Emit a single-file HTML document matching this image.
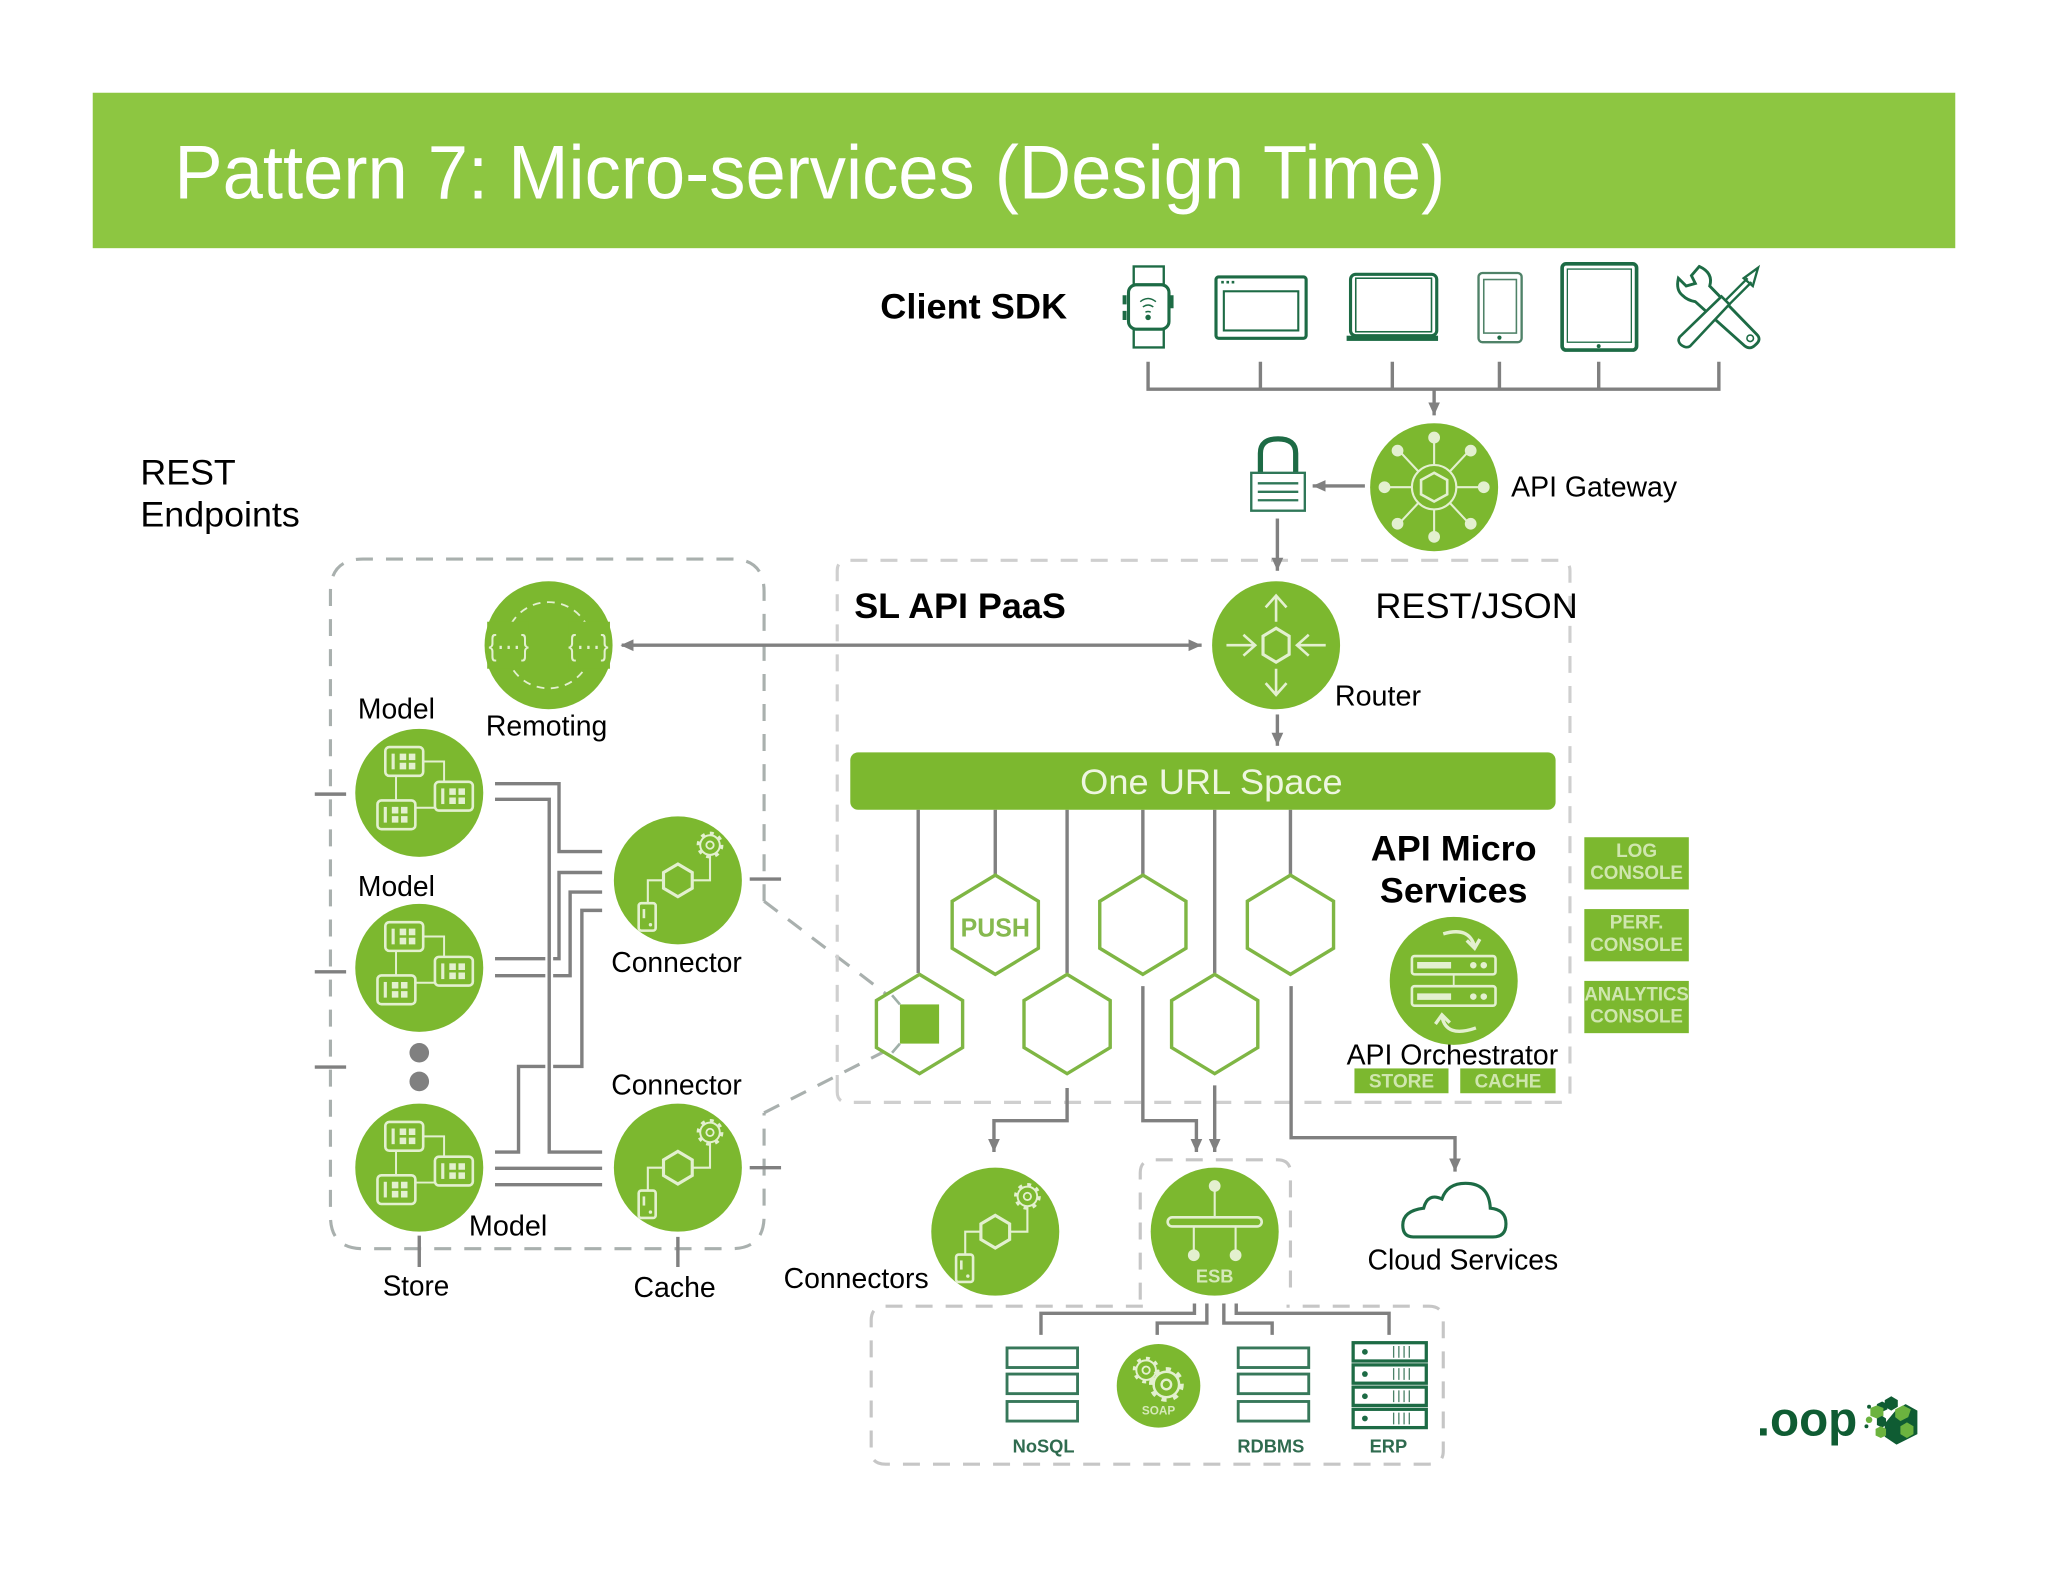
<!DOCTYPE html>
<html><head><meta charset="utf-8"><style>
html,body{margin:0;padding:0;background:#fff}
svg{display:block}
text{font-family:"Liberation Sans",sans-serif}
</style></head><body>
<svg xmlns="http://www.w3.org/2000/svg" width="2048" height="1582" viewBox="0 0 1568 1211.2">
<defs>
<marker id="a" markerUnits="userSpaceOnUse" markerWidth="11" markerHeight="10" refX="10" refY="5" orient="auto"><path d="M0 .5L10 5L0 9.5z" fill="#808080"/></marker>
<marker id="b" markerUnits="userSpaceOnUse" markerWidth="11" markerHeight="10" refX="1" refY="5" orient="auto"><path d="M10 .5L0 5L10 9.5z" fill="#808080"/></marker>
<g id="cell"><rect x="0" y="0" width="29" height="22" rx="3" fill="none" stroke="#e3f0cf" stroke-width="2"/><path d="M6 5v12" stroke="#e3f0cf" stroke-width="2.4"/><path d="M11 5h5v5h-5zM18 5h5v5h-5zM11 12h5v5h-5zM18 12h5v5h-5z" fill="#e3f0cf"/></g>
<g id="model"><circle r="49" fill="#7cb82f"/>
<path d="M3 -24H19V-8.4M-17.8 -13V5.7M-2.7 11.4H11.8" fill="none" stroke="#e3f0cf" stroke-width="1.5"/>
<use href="#cell" x="-26" y="-35"/><use href="#cell" x="12" y="-8.4"/><use href="#cell" x="-32" y="5.8"/></g>
<g id="gear"><circle r="7.5" fill="none" stroke="#e3f0cf" stroke-width="1.5"/><circle r="9" fill="none" stroke="#e3f0cf" stroke-width="2.5" stroke-dasharray="3 4"/><circle r="2.8" fill="none" stroke="#e3f0cf" stroke-width="1.4"/></g>
<g id="conn"><circle r="49" fill="#7cb82f"/>
<path d="M-11 0H-23V17.5M11 0H24.6V-19" fill="none" stroke="#e3f0cf" stroke-width="1.6"/>
<path d="M0 -12.5L11 -6V6L0 12.5L-11 6V-6z" fill="none" stroke="#e3f0cf" stroke-width="2.4"/>
<rect x="-30" y="17.5" width="13" height="21" rx="2" fill="none" stroke="#e3f0cf" stroke-width="2"/>
<path d="M-26 22v7" stroke="#e3f0cf" stroke-width="2"/><circle cx="-21" cy="34" r="1.3" fill="#e3f0cf"/>
<use href="#gear" x="24.6" y="-27"/></g>
<g id="dbrow"><rect width="54" height="15" fill="#fff" stroke="#37785a" stroke-width="2.2"/></g>
<g id="erprow"><rect width="56" height="14" fill="#fff" stroke="#1d6b45" stroke-width="2.5"/><circle cx="9" cy="7" r="2.2" fill="#1d6b45"/><path d="M31 2.5v9M35 2.5v9M39 2.5v9M43 2.5v9" stroke="#4b8268" stroke-width="1"/></g>
</defs>
<rect width="1568" height="1212" fill="#fff"/>
<rect x="71" y="71" width="1426" height="119" fill="#8dc641"/>
<text x="133.500" y="152" font-size="58" fill="#fff" textLength="973" lengthAdjust="spacingAndGlyphs">Pattern 7: Micro-services (Design Time)</text>

<text x="674" y="244" font-size="27" font-weight="bold" textLength="143" lengthAdjust="spacingAndGlyphs">Client SDK</text>
<text x="107.500" y="371" font-size="27" textLength="73" lengthAdjust="spacingAndGlyphs">REST</text>
<text x="107.500" y="403" font-size="27" textLength="122" lengthAdjust="spacingAndGlyphs">Endpoints</text>

<!-- devices -->
<g fill="none" stroke="#1d6b45" stroke-width="2.4">
<rect x="868" y="204" width="23" height="62" fill="#fff" stroke-width="1.8"/>
<rect x="864" y="218" width="31" height="34" rx="6" fill="#fff"/>
<path d="M861 226v7M861 238v7M897 226v10" stroke-width="3"/>
<path d="M873 231q6-5 12 0M875 235q4-3 8 0M877 239q2-1 4 0" stroke-width="1.1"/><circle cx="879" cy="243" r=".9" fill="#1d6b45"/>
<rect x="931" y="212" width="69" height="47" rx="2"/><rect x="937" y="223" width="57" height="30" stroke-width="1.6"/>
<path d="M935 216h2M939 216h2M943 216h2" stroke-width="2"/>
<rect x="1034" y="210" width="66" height="47" rx="4"/><rect x="1038" y="213" width="58" height="41" stroke-width="1.2"/>
<rect x="1031" y="257" width="70" height="4" fill="#1d6b45" stroke="none"/>
<rect x="1132" y="209" width="33" height="53" rx="3" stroke="#4f8268" stroke-width="1.8"/><rect x="1136" y="214" width="25" height="41" stroke="#4f8268" stroke-width="1.2"/><circle cx="1148" cy="258.500" r="1.6" fill="#1d6b45" stroke="none"/>
<rect x="1196" y="202" width="57" height="66" rx="3" stroke-width="2.8"/><rect x="1200" y="206" width="49" height="56" stroke-width="1"/><circle cx="1224" cy="265" r="1.5" fill="#1d6b45" stroke="none"/>
<path d="M1301 204L1295 211L1298 217L1291 219L1285 213Q1283 222 1288 226Q1292 230 1298 231L1336 265Q1340 268 1344 264Q1349 260 1345 256L1309 219Q1312 209 1301 204Z" stroke-width="2.200"/>
<circle cx="1340" cy="259" r="2.500" stroke-width="1.200"/>
<path d="M1286 258L1318 227L1324 233L1294 265Q1291 267 1287 264Q1284 261 1286 258Z" fill="#fff" stroke-width="2"/>
<path d="M1321 230L1338 213M1324 233L1341 216M1335 213L1346 205L1342 219Z" stroke-width="1.800"/>
</g>

<!-- dashed boxes -->
<g fill="none" stroke="#a9b0ae" stroke-width="2.4" stroke-dasharray="13 10">
<path d="M585 690V453Q585 428 560 428H278Q253 428 253 453V931Q253 956 278 956H560Q585 956 585 931V852"/>
<path d="M585 690L689 769M585 852L689 799"/>
</g>
<g fill="none" stroke="#cfcfcf" stroke-width="2.4" stroke-dasharray="13 10">
<path d="M641 836V437Q641 429 649 429H1194Q1202 429 1202 437V836Q1202 844 1194 844H649Q641 844 641 836Z"/>
</g>
<g fill="none" stroke="#c6c6c6" stroke-width="2.4" stroke-dasharray="13 10">
<path d="M873 995V898Q873 888 883 888H978Q988 888 988 898V995"/>
<path d="M875 1000H678Q667 1000 667 1011V1111Q667 1121 678 1121H1094Q1105 1121 1105 1111V1011Q1105 1000 1094 1000H985"/>
</g>

<!-- connector lines -->
<g fill="none" stroke="#808080" stroke-width="2.6">
<path d="M879 277V298H1316V277M965 277V298M1066 277V298M1148 277V298M1224 277V298"/>
<path d="M1098 298V318" marker-end="url(#a)"/>
<path d="M1045 372H1005" marker-end="url(#a)"/>
<path d="M978 397V437" marker-end="url(#a)"/>
<path d="M476 494H920" marker-start="url(#b)" marker-end="url(#a)"/>
<path d="M978 547V571" marker-end="url(#a)"/>
<path d="M703 620V745M762 620V670M817 620V745M875 620V670M930 620V745M988 620V670"/>
<path d="M817 833V858H761V882" marker-end="url(#a)"/>
<path d="M875 755V858H916V882" marker-end="url(#a)"/>
<path d="M930 831V882" marker-end="url(#a)"/>
<path d="M988.500 755V871H1114V897" marker-end="url(#a)"/>
<path d="M914.500 998V1005.500H797V1022M924 998V1013H886V1022M937 998V1013H974V1022M946.500 998V1005.500H1063.500V1022"/>
<path d="M241 608H265M241 744H265M241 817H265M574 673H598M574 894H598M321 946V970M519 947V970"/>
<path d="M379 600H428V652H461M379 734H428V668H461M379 747H436.500V683H461M461 697H445.500V816.500H397V882H379M379 894.500H461M379 907H461"/>
<path d="M379 612H420.500V882H461" stroke="#fff" stroke-width="6"/>
<path d="M379 612H420.500V882H461"/>
</g>

<!-- gateway -->
<circle cx="1098" cy="373" r="49" fill="#7cb82f"/>
<g transform="translate(1098 373)" stroke="#e3f0cf" fill="none" stroke-width="1.6">
<circle r="17"/><path d="M0 -11L10 -5.500V5.500L0 11L-10 5.500V-5.500z" stroke-width="2"/>
<path d="M0 -17V-38M0 17V38M17 0H38M-17 0H-38M12 -12L26 -27M-12 -12L-26 -27M12 12L26 27M-12 12L-26 27"/>
<g fill="#e3f0cf" stroke="none"><circle cy="-38" r="4.500"/><circle cy="38" r="4.500"/><circle cx="38" r="4.500"/><circle cx="-38" r="4.500"/><circle cx="28" cy="-28" r="4.500"/><circle cx="-28" cy="-28" r="4.500"/><circle cx="28" cy="28" r="4.500"/><circle cx="-28" cy="28" r="4.500"/></g>
</g>
<text x="1157" y="380" font-size="22" textLength="127" lengthAdjust="spacingAndGlyphs">API Gateway</text>
<!-- lock -->
<path d="M965 362V347Q965 336 978.500 336Q992 336 992 347V362" fill="none" stroke="#1d6b45" stroke-width="4"/>
<rect x="958" y="362" width="41" height="29" fill="#fff" stroke="#2f7758" stroke-width="1.8"/>
<path d="M963 370H994M963 376.500H994M963 383H994" stroke="#2f7758" stroke-width="1.8"/>

<!-- router -->
<circle cx="977" cy="494" r="49" fill="#7cb82f"/>
<g transform="translate(977 494)" fill="none" stroke="#e3f0cf" stroke-width="2">
<path d="M0 -13L10 -7V7L0 13L-10 7V-7z" stroke-width="2.400"/>
<path d="M0 -18V-38M-8 -29L0 -38L8 -29M0 18V38M-8 29L0 38L8 29M-38 0H-16M-25 -8L-16 0L-25 8M38 0H16M25 -8L16 0L25 8"/>
</g>
<text x="654" y="473" font-size="27" font-weight="bold" textLength="162" lengthAdjust="spacingAndGlyphs">SL API PaaS</text>
<text x="1053" y="473" font-size="27" textLength="155" lengthAdjust="spacingAndGlyphs">REST/JSON</text>
<text x="1022" y="540" font-size="22" textLength="66" lengthAdjust="spacingAndGlyphs">Router</text>

<!-- remoting -->
<circle cx="420" cy="494" r="49" fill="#7cb82f"/>
<circle cx="420" cy="494" r="33" fill="none" stroke="#e3f0cf" stroke-width="1.4" stroke-dasharray="6 5"/>
<rect x="373" y="476" width="32" height="36" fill="#7cb82f"/><rect x="435" y="476" width="32" height="36" fill="#7cb82f"/>
<text x="374" y="502" font-size="23" fill="#e3f0cf" textLength="31" lengthAdjust="spacingAndGlyphs">{···}</text>
<text x="435" y="502" font-size="23" fill="#e3f0cf" textLength="31" lengthAdjust="spacingAndGlyphs">{···}</text>
<text x="372" y="563" font-size="22" textLength="93" lengthAdjust="spacingAndGlyphs">Remoting</text>

<!-- models, connectors -->
<use href="#model" x="321" y="607"/><use href="#model" x="321" y="741"/><use href="#model" x="321" y="894"/>
<circle cx="321" cy="806" r="7.500" fill="#808080"/><circle cx="321" cy="828" r="7.500" fill="#808080"/>
<use href="#conn" x="519" y="674"/><use href="#conn" x="519" y="894"/><use href="#conn" x="762" y="943"/>
<g font-size="22">
<text x="274" y="550" textLength="59" lengthAdjust="spacingAndGlyphs">Model</text>
<text x="274" y="686" textLength="59" lengthAdjust="spacingAndGlyphs">Model</text>
<text x="359" y="946" textLength="60" lengthAdjust="spacingAndGlyphs">Model</text>
<text x="468" y="744" textLength="100" lengthAdjust="spacingAndGlyphs">Connector</text>
<text x="468" y="838" textLength="100" lengthAdjust="spacingAndGlyphs">Connector</text>
<text x="293" y="992" textLength="51" lengthAdjust="spacingAndGlyphs">Store</text>
<text x="485" y="993" textLength="63" lengthAdjust="spacingAndGlyphs">Cache</text>
<text x="600" y="986" textLength="111" lengthAdjust="spacingAndGlyphs">Connectors</text>
<text x="1047" y="972" textLength="146" lengthAdjust="spacingAndGlyphs">Cloud Services</text>
<text x="1031" y="815" textLength="162" lengthAdjust="spacingAndGlyphs">API Orchestrator</text>
</g>

<!-- URL bar -->
<rect x="651" y="576" width="540" height="44" rx="6" fill="#7cb82f"/>
<text x="827" y="608" font-size="27" fill="#eef6e0" textLength="201" lengthAdjust="spacingAndGlyphs">One URL Space</text>

<!-- hexes -->
<g fill="#fff" stroke="#7fb644" stroke-width="2.600">
<path d="M762 670L795 690V726L762 746L729 726V690z"/>
<path d="M875 670L908 690V726L875 746L842 726V690z"/>
<path d="M988 670L1021 690V726L988 746L955 726V690z"/>
<path d="M704 746L737 766V802L704 822L671 802V766z"/>
<path d="M817 746L850 766V802L817 822L784 802V766z"/>
<path d="M930 746L963 766V802L930 822L897 802V766z"/>
</g>
<rect x="689" y="769" width="30" height="30" fill="#7cb82f"/>
<path d="M683 762L689 769M683 806L689 799" stroke="#9fb0a8" stroke-width="2"/>
<text x="735.500" y="717" font-size="20" font-weight="bold" fill="#86b94f" textLength="53" lengthAdjust="spacingAndGlyphs">PUSH</text>

<text x="1113" y="659" font-size="27" font-weight="bold" text-anchor="middle" textLength="127" lengthAdjust="spacingAndGlyphs">API Micro</text>
<text x="1113" y="691" font-size="27" font-weight="bold" text-anchor="middle" textLength="113" lengthAdjust="spacingAndGlyphs">Services</text>

<!-- orchestrator -->
<circle cx="1113" cy="751" r="49" fill="#7cb82f"/>
<g transform="translate(1113 751)" fill="none" stroke="#e3f0cf" stroke-width="2">
<rect x="-32" y="-19" width="64" height="14" rx="2"/><rect x="-32" y="4" width="64" height="15" rx="2"/>
<path d="M0 -5V4" stroke-width="1.400"/>
<path d="M-28 -12H-2M-28 12H-2" stroke-width="5"/>
<circle cx="15" cy="-12" r="1.500" fill="#e3f0cf"/><circle cx="23" cy="-12" r="1.500" fill="#e3f0cf"/><circle cx="15" cy="12" r="1.500" fill="#e3f0cf"/><circle cx="23" cy="12" r="1.500" fill="#e3f0cf"/>
<path d="M-8 -36Q12 -42 16 -26M10 -31L16 -25L20 -32M17 36Q-6 44 -9 27M-14 33L-9 26L-3 32" stroke-width="2.600"/>
</g>
<g fill="#7cb82f"><rect x="1037" y="818" width="72" height="19"/><rect x="1118" y="818" width="73" height="19"/>
<rect x="1213" y="641" width="80" height="40"/><rect x="1213" y="696" width="80" height="40"/><rect x="1213" y="751" width="80" height="40"/></g>
<g font-size="14.500" font-weight="bold" fill="#cfe6ae" text-anchor="middle">
<text x="1073" y="832.500" textLength="50" lengthAdjust="spacingAndGlyphs">STORE</text>
<text x="1154.500" y="832.500" textLength="51" lengthAdjust="spacingAndGlyphs">CACHE</text>
<text x="1253" y="656">LOG</text><text x="1253" y="673" textLength="71" lengthAdjust="spacingAndGlyphs">CONSOLE</text>
<text x="1253" y="711">PERF.</text><text x="1253" y="728" textLength="71" lengthAdjust="spacingAndGlyphs">CONSOLE</text>
<text x="1253" y="766" textLength="80" lengthAdjust="spacingAndGlyphs">ANALYTICS</text><text x="1253" y="783" textLength="71" lengthAdjust="spacingAndGlyphs">CONSOLE</text>
</g>

<!-- ESB -->
<circle cx="930" cy="943" r="49" fill="#7cb82f"/>
<g transform="translate(930 943)" fill="none" stroke="#e3f0cf" stroke-width="1.600">
<path d="M0 -31V-11M-16 -4V17M16 -4V17"/>
<rect x="-36" y="-11" width="72" height="7" rx="3.500" stroke-width="2"/>
<g fill="#e3f0cf" stroke="none"><circle cy="-35" r="4.500"/><circle cx="-16" cy="18" r="4.500"/><circle cx="16" cy="18" r="4.500"/></g>
</g>
<text x="930" y="982" font-size="14" font-weight="bold" fill="#d5e9b8" text-anchor="middle">ESB</text>

<!-- cloud -->
<path d="M1082 947H1143Q1153 947 1153 937Q1153 926 1141 925Q1140 906 1122 906Q1108 906 1104 918Q1093 913 1090 925Q1074 927 1074 938Q1074 947 1082 947Z" fill="none" stroke="#1d6b45" stroke-width="2.400"/>

<!-- data stores -->
<use href="#dbrow" x="771" y="1032"/><use href="#dbrow" x="771" y="1052"/><use href="#dbrow" x="771" y="1073"/>
<use href="#dbrow" x="948" y="1032"/><use href="#dbrow" x="948" y="1052"/><use href="#dbrow" x="948" y="1073"/>
<use href="#erprow" x="1036" y="1028"/><use href="#erprow" x="1036" y="1045"/><use href="#erprow" x="1036" y="1062"/><use href="#erprow" x="1036" y="1079"/>
<circle cx="887" cy="1061" r="32" fill="#7cb82f"/>
<use href="#gear" x="877.500" y="1049"/><use href="#gear" transform="translate(893 1060) scale(1.300)"/>
<text x="887" y="1083" font-size="9" font-weight="bold" fill="#d5e9b8" text-anchor="middle">SOAP</text>
<g font-size="14" font-weight="bold" fill="#2f6b4f" text-anchor="middle">
<text x="799" y="1112">NoSQL</text><text x="973" y="1112">RDBMS</text><text x="1063" y="1112">ERP</text>
</g>

<!-- logo -->
<text x="1345" y="1099" font-size="37" font-weight="bold" fill="#0f5c33" textLength="77" lengthAdjust="spacingAndGlyphs">.oop</text>
<g>
<path d="M1452 1079L1459 1075L1468 1080V1098L1452 1106L1443 1100V1090z" fill="#0f5c33"/>
<path d="M1443 1072l5-3 5 3v5l-5 3-5-3z" fill="#0f5c33"/>
<path d="M1451 1079l6-3 6 3-2 6-6 3-4-3z" fill="#6cb33f"/>
<path d="M1437 1075l4-2 4 2v4l-4 2-4-2z" fill="#0f5c33"/>
<path d="M1432 1078l5-2 5 2 0 6-5 2-5-2z" fill="#6cb33f"/>
<path d="M1437 1086l4-2 3 2v5l-3 2-4-2z" fill="#0f5c33"/>
<path d="M1436 1094l4-2 4 2v5l-4 2-4-2z" fill="#6cb33f"/>
<path d="M1455 1092l5-3 5 3v6l-5 3-5-3z" fill="#6cb33f"/>
<circle cx="1431" cy="1087" r="2.500" fill="#6cb33f"/><circle cx="1429" cy="1092" r="1.500" fill="#0f5c33"/><circle cx="1431" cy="1077" r="1.500" fill="#0f5c33"/>
</g>
</svg>
</body></html>
